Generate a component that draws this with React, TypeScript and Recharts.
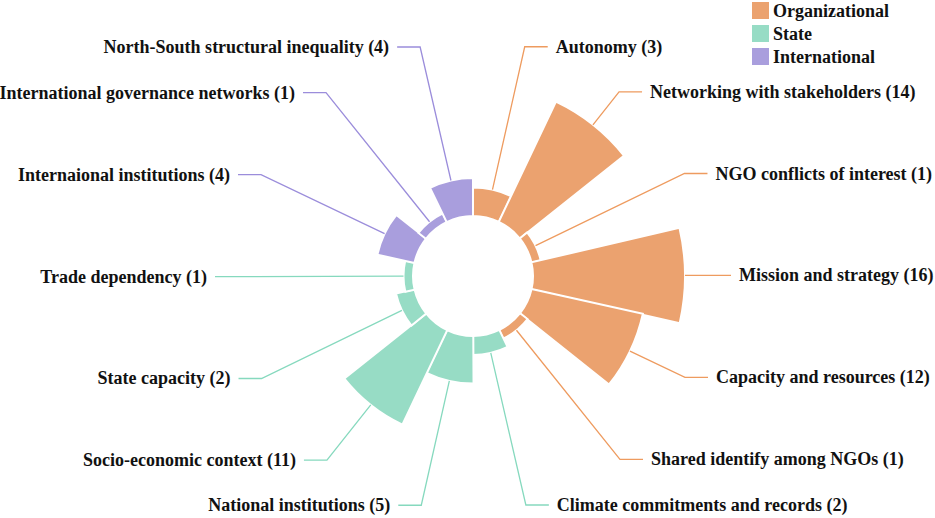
import { RadialBarChart, RadialBar, PolarAngleAxis, PolarRadiusAxis, Cell, Legend, Sector } from 'recharts';

const categories = [
  'Autonomy',
  'Networking with stakeholders',
  'NGO conflicts of interest',
  'Mission and strategy',
  'Capacity and resources',
  'Shared identify among NGOs',
  'Climate commitments and records',
  'National institutions',
  'Socio-economic context',
  'State capacity',
  'Trade dependency',
  'Internaional institutions',
  'International governance networks',
  'North-South structural inequality',
];
const counts = [3, 14, 1, 16, 12, 1, 2, 5, 11, 2, 1, 4, 1, 4];
const groups = [
  'Organizational', 'Organizational', 'Organizational', 'Organizational', 'Organizational', 'Organizational',
  'State', 'State', 'State', 'State', 'State',
  'International', 'International', 'International',
];
const groupNames = ['Organizational', 'State', 'International'];

const COLORS: Record<string, string> = {
  Organizational: '#EBA26F',
  State: '#97DCC5',
  International: '#A99EDD',
};
const LINE_COLORS: Record<string, string> = {
  Organizational: '#EE9B5F',
  State: '#86D9BE',
  International: '#9B8DDB',
};

const FONT = '"Liberation Serif", "Times New Roman", serif';
const RAD = Math.PI / 180;
const LABEL_R = 235;
// recharts' category band on a full circle lands one band counter-clockwise, so start one step early
const STEP = 360 / categories.length;

const data = categories.map((name, i) => ({ name, value: counts[i], group: groups[i] }));

function RoseSector(props: any) {
  const { cx, cy, innerRadius, outerRadius, startAngle, endAngle, fill, payload } = props;
  const mid = (startAngle + endAngle) / 2;
  const cos = Math.cos(-mid * RAD);
  const sin = Math.sin(-mid * RAD);
  const sx = cx + outerRadius * cos;
  const sy = cy + outerRadius * sin;
  const ex = cx + LABEL_R * cos;
  const ey = cy + LABEL_R * sin;
  const right = cos >= 0;
  const hx = ex + (right ? 23 : -23);
  const tx = hx + (right ? 8 : -8);
  const lineColor = LINE_COLORS[payload.group];
  return (
    <g>
      <Sector
        cx={cx}
        cy={cy}
        innerRadius={innerRadius}
        outerRadius={outerRadius}
        startAngle={startAngle}
        endAngle={endAngle}
        fill={fill}
        stroke="#fff"
        strokeWidth={2}
      />
      <polyline
        points={`${sx},${sy} ${ex},${ey} ${hx},${ey}`}
        fill="none"
        stroke={lineColor}
        strokeWidth={1.3}
      />
      <text
        x={tx}
        y={ey}
        textAnchor={right ? 'start' : 'end'}
        dominantBaseline="central"
        fontFamily={FONT}
        fontWeight="bold"
        fontSize={18}
        fill="#111"
      >
        {`${payload.name} (${payload.value})`}
      </text>
    </g>
  );
}

function GroupLegend() {
  return (
    <div style={{ fontFamily: FONT, fontWeight: 'bold', fontSize: 18, color: '#111' }}>
      {groupNames.map((g) => (
        <div key={g} style={{ display: 'flex', alignItems: 'center', height: 23 }}>
          <span style={{ width: 17, height: 17, background: COLORS[g], display: 'inline-block', marginRight: 4 }} />
          <span style={{ lineHeight: '20px' }}>{g}</span>
        </div>
      ))}
    </div>
  );
}

export default function App() {
  return (
    <div style={{ position: 'absolute', left: 0, top: 0, width: 935, height: 518, background: '#fff' }}>
      <RadialBarChart
        width={935}
        height={518}
        data={data}
        layout="centric"
        cx={473}
        cy={276}
        innerRadius={60}
        outerRadius={212}
        startAngle={90 - STEP}
        endAngle={-270 - STEP}
        barCategoryGap={0}
        margin={{ top: 0, right: 0, bottom: 0, left: 0 }}
      >
        <PolarAngleAxis type="category" dataKey="name" tick={false} axisLine={false} tickLine={false} />
        <PolarRadiusAxis type="number" domain={[0, 16]} tick={false} axisLine={false} tickLine={false} />
        <RadialBar dataKey="value" isAnimationActive={false} shape={RoseSector}>
          {data.map((d) => (
            <Cell key={d.name} fill={COLORS[d.group]} />
          ))}
        </RadialBar>
        <Legend
          layout="vertical"
          align="right"
          verticalAlign="top"
          content={() => <GroupLegend />}
          wrapperStyle={{ left: 752, top: -1, width: 180 }}
        />
      </RadialBarChart>
    </div>
  );
}
